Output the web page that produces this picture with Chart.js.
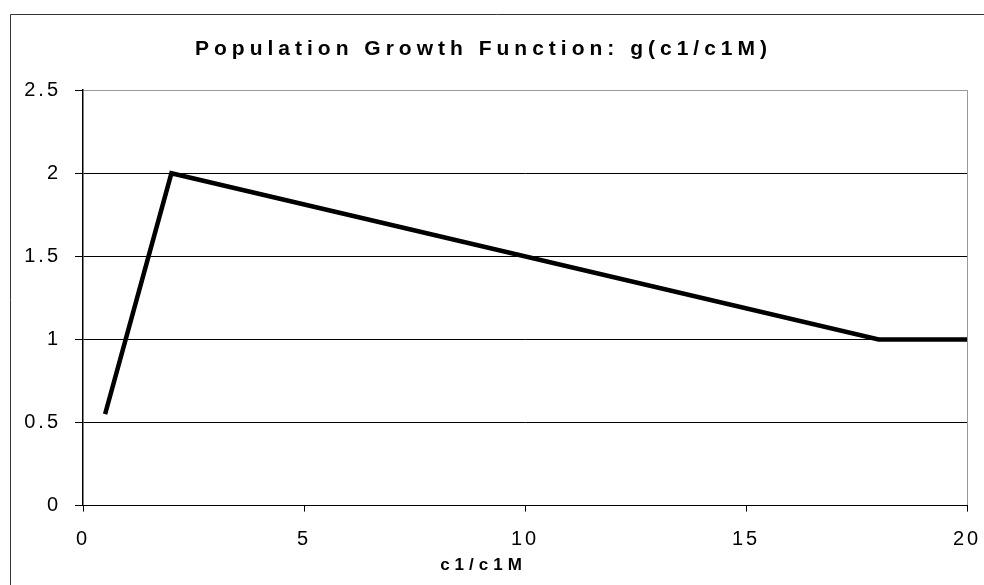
<!DOCTYPE html>
<html>
<head>
<meta charset="utf-8">
<script src="https://cdn.jsdelivr.net/npm/chart.js@4/dist/chart.umd.min.js"></script>
<style>
  body { margin: 0; background: #fff; }
  #wrap { width: 984px; height: 585px; }
</style>
</head>
<body>
<div id="wrap"><canvas id="chart-canvas"></canvas></div>
<script>
// growth function g(c1/c1M)
let ratios = [0.5, 2, 18, 20];
let growth = [0.55, 2, 1, 1];
let xTicks = [0, 5, 10, 15, 20];
let yTicks = [0, 0.5, 1, 1.5, 2, 2.5];

let font = "'Liberation Sans', Arial, sans-serif";

// page frame + spaced lettering like the scanned original
let framePlugin = {
  id: "frame",
  afterLayout: function (c) {
    Object.values(c.scales).forEach(function (s) {
      if (s._spaced) return;
      let orig = s.drawLabels;
      s.drawLabels = function (area) {
        let ctx = this.ctx;
        let old = ctx.letterSpacing;
        ctx.letterSpacing = "3px";
        orig.call(this, area);
        ctx.letterSpacing = old;
      };
      s._spaced = true;
    });
  },
  beforeDraw: function (c) {
    let ctx = c.ctx;
    ctx.save();
    ctx.fillStyle = "#fff";
    ctx.fillRect(0, 0, c.width, c.height);
    ctx.strokeStyle = "#333";
    ctx.lineWidth = 1;
    ctx.beginPath();
    ctx.moveTo(10.5, 585);
    ctx.lineTo(10.5, 14.5);
    ctx.lineTo(984, 14.5);
    ctx.stroke();
    ctx.restore();
    ctx.letterSpacing = "5px";
  },
};

let chart = document.getElementById("chart-canvas").getContext("2d");

let chart1 = new Chart(chart, {
  type: "scatter",
  data: {
    datasets: [
      {
        label: "g(c1/c1M)",
        data: ratios.map(function (r, i) {
          return { x: r, y: growth[i] };
        }),
        showLine: true,
        borderColor: "#000",
        borderWidth: 4.5,
        borderJoinStyle: "miter",
        pointRadius: 0,
        tension: 0,
      },
    ],
  },
  options: {
    responsive: true,
    maintainAspectRatio: false,
    animation: false,
    layout: { padding: { left: 0, right: 17, top: 0, bottom: 0 } },
    plugins: {
      legend: { display: false },
      tooltip: { enabled: false },
      title: {
        display: true,
        text: "Population Growth Function: g(c1/c1M)",
        color: "#000",
        font: { family: font, size: 21, weight: "bold", lineHeight: 1.2 },
        padding: { top: 37, bottom: 28 },
      },
      subtitle: {
        display: true,
        position: "bottom",
        text: "c1/c1M",
        color: "#000",
        font: { family: font, size: 17, weight: "bold", lineHeight: 1.2 },
        padding: { top: 0, bottom: 9 },
      },
    },
    scales: {
      x: {
        type: "linear",
        min: xTicks[0],
        max: xTicks[xTicks.length - 1],
        afterBuildTicks: function (scale) {
          scale.ticks = xTicks.map(function (v) {
            return { value: v };
          });
        },
        afterFit: function (scale) {
          scale.height = 50;
          scale.paddingLeft = 0;
          scale.paddingRight = 0;
        },
        grid: {
          color: function (ctx) {
            return ctx.tick && ctx.tick.value === 20 ? "#999" : "rgba(0,0,0,0)";
          },
          tickColor: "#000",
          tickLength: 6,
          lineWidth: 1,
        },
        border: { color: "#000", width: 1 },
        ticks: {
          color: "#000",
          padding: 16,
          font: { family: font, size: 20 },
          callback: function (v) {
            return String(v);
          },
        },
      },
      y: {
        min: yTicks[0],
        max: yTicks[yTicks.length - 1],
        afterBuildTicks: function (scale) {
          scale.ticks = yTicks.map(function (v) {
            return { value: v };
          });
        },
        afterFit: function (scale) {
          scale.width = 83;
        },
        grid: {
          color: function (ctx) {
            return ctx.tick && ctx.tick.value === 2.5 ? "#999" : "#000";
          },
          tickColor: "#000",
          tickLength: 8,
          lineWidth: 1,
        },
        border: { color: "#000", width: 1.5 },
        ticks: {
          color: "#000",
          padding: 14,
          font: { family: font, size: 20 },
          callback: function (v) {
            return String(v);
          },
        },
      },
    },
  },
  plugins: [framePlugin],
});
</script>
</body>
</html>
